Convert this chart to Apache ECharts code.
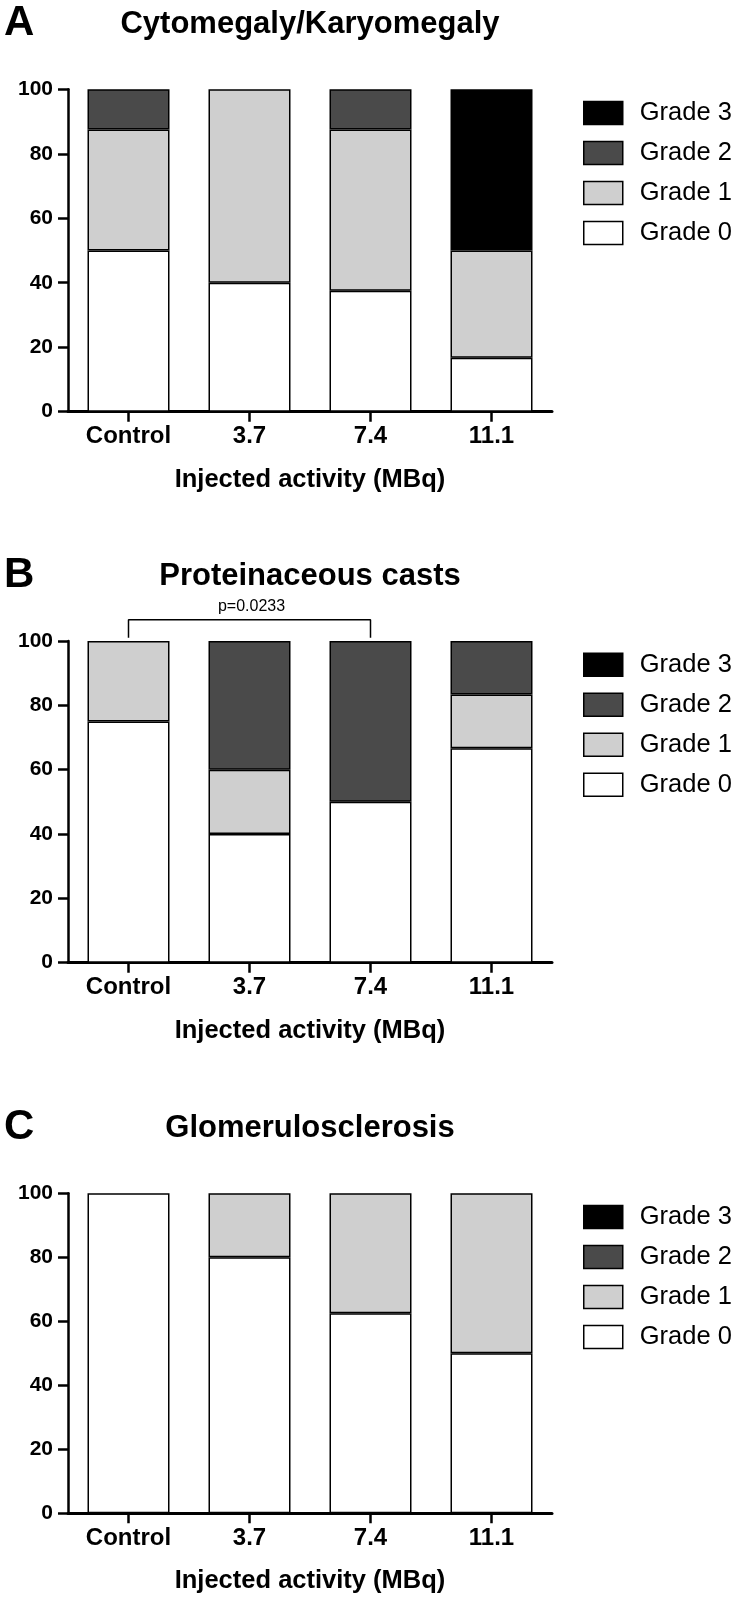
<!DOCTYPE html>
<html>
<head>
<meta charset="utf-8">
<script src="https://cdn.jsdelivr.net/npm/echarts@6/dist/echarts.min.js"></script>
<style>
html,body{margin:0;padding:0;background:#fff;}
#c{width:737px;height:1599px;}
</style>
</head>
<body>
<div id="c"></div>
<script>
// ---- data ----
const categories = ['Control', '3.7', '7.4', '11.1'];
const gradeNames = ['Grade 0', 'Grade 1', 'Grade 2', 'Grade 3'];
const legendOrder = ['Grade 3', 'Grade 2', 'Grade 1', 'Grade 0'];
const yTicks = [0, 20, 40, 60, 80, 100];

const panelLetters = ['A', 'B', 'C'];
const panelTitles = ['Cytomegaly/Karyomegaly', 'Proteinaceous casts', 'Glomerulosclerosis'];
const xAxisTitle = 'Injected activity (MBq)';

// Panel A: Cytomegaly/Karyomegaly (% of animals)
const a_grade0 = [50, 40, 37.5, 16.7];
const a_grade1 = [37.5, 60, 50, 33.3];
const a_grade2 = [12.5, 0, 12.5, 0];
const a_grade3 = [0, 0, 0, 50];

// Panel B: Proteinaceous casts
const b_grade0 = [75, 40, 50, 66.7];
const b_grade1 = [25, 20, 0, 16.7];
const b_grade2 = [0, 40, 50, 16.6];
const b_grade3 = [0, 0, 0, 0];

// Panel C: Glomerulosclerosis
const c_grade0 = [100, 80, 62.5, 50];
const c_grade1 = [0, 20, 37.5, 50];
const c_grade2 = [0, 0, 0, 0];
const c_grade3 = [0, 0, 0, 0];

// significance bracket (panel B)
const bracketFrom = 'Control';
const bracketTo = '7.4';
const bracketLow = 101;
const bracketHigh = 106.6;
const pLabel = 'p=0.0233';

// ---- styling / layout ----
const FONT = '"Liberation Sans", Arial, Helvetica, sans-serif';
const gradeColors = ['#ffffff', '#cfcfcf', '#4a4a4a', '#000000'];
const panelTop = [89.3, 641, 1193.3];
const panelHeight = [322.4, 321.7, 320];
const gridLeft = 68;
const gridWidth = 484;

const panelData = [
  [a_grade0, a_grade1, a_grade2, a_grade3],
  [b_grade0, b_grade1, b_grade2, b_grade3],
  [c_grade0, c_grade1, c_grade2, c_grade3]
];

const grids = [], xAxes = [], yAxes = [], series = [], legends = [], titles = [];

for (let p = 0; p < 3; p++) {
  const top = panelTop[p];
  const h = panelHeight[p];
  grids.push({ left: gridLeft, top: top, width: gridWidth, height: h, containLabel: false });
  xAxes.push({
    type: 'category', gridIndex: p, data: categories,
    axisLine: { show: true, lineStyle: { color: '#000', width: 3 } },
    axisTick: { show: true, alignWithLabel: true, length: 10, lineStyle: { color: '#000', width: 2.5 } },
    axisLabel: { color: '#000', fontFamily: FONT, fontWeight: 'bold', fontSize: 24, margin: 13 },
    name: xAxisTitle, nameLocation: 'middle', nameGap: 55,
    nameTextStyle: { color: '#000', fontFamily: FONT, fontWeight: 'bold', fontSize: 25.5 }
  });
  yAxes.push({
    type: 'value', gridIndex: p, min: yTicks[0], max: yTicks[yTicks.length - 1], interval: yTicks[1] - yTicks[0],
    axisLine: { show: true, lineStyle: { color: '#000', width: 2.5 } },
    axisTick: { show: true, length: 10, lineStyle: { color: '#000', width: 2.5 } },
    axisLabel: { color: '#000', fontFamily: FONT, fontWeight: 'bold', fontSize: 21, margin: 15 },
    splitLine: { show: false }
  });
  for (let g = 0; g < 4; g++) {
    series.push({
      type: 'bar', name: gradeNames[g], xAxisIndex: p, yAxisIndex: p,
      stack: 'panel' + p, barWidth: 82,
      // zero-height segments are left empty so they draw no extra outline
      data: panelData[p][g].map(v => (v === 0 ? '-' : v)),
      itemStyle: { color: gradeColors[g], borderColor: '#000', borderWidth: 1.5 },
      emphasis: { disabled: true }, silent: true
    });
  }
  legends.push({
    orient: 'vertical', left: 583, top: top + 10.7, padding: 0,
    itemWidth: 39, itemHeight: 23, itemGap: 14,
    icon: 'rect', selectedMode: false,
    data: legendOrder,
    itemStyle: { borderColor: '#000', borderWidth: 1.5 },
    textStyle: { color: '#000', fontFamily: FONT, fontSize: 25.5, lineHeight: 24, padding: [0, 0, 0, 12] }
  });
  titles.push({
    text: panelTitles[p], left: 310, textAlign: 'center', top: top - 67 - 13.5, padding: 0,
    textStyle: { color: '#000', fontFamily: FONT, fontWeight: 'bold', fontSize: 31 }
  });
  titles.push({
    text: panelLetters[p], left: 4, top: top - 67 - 19.5, padding: 0,
    textStyle: { color: '#000', fontFamily: FONT, fontWeight: 'bold', fontSize: 42 }
  });
}

// bracket drawn through the panel-B axes
series.push({
  type: 'line', name: 'bracket', xAxisIndex: 1, yAxisIndex: 1,
  data: [[bracketFrom, bracketLow], [bracketFrom, bracketHigh], [bracketTo, bracketHigh], [bracketTo, bracketLow]],
  symbol: 'none', clip: false, silent: true,
  lineStyle: { color: '#000', width: 1.5 }
});

const chart = echarts.init(document.getElementById('c'), null, { renderer: 'canvas' });
chart.setOption({
  animation: false,
  backgroundColor: '#fff',
  title: titles,
  grid: grids,
  xAxis: xAxes,
  yAxis: yAxes,
  legend: legends,
  series: series
});

const pFrom = chart.convertToPixel({ gridIndex: 1 }, [categories.indexOf(bracketFrom), bracketHigh]);
const pTo = chart.convertToPixel({ gridIndex: 1 }, [categories.indexOf(bracketTo), bracketHigh]);
chart.setOption({
  graphic: [{
    type: 'text', x: (pFrom[0] + pTo[0]) / 2 + 2, y: pFrom[1] - 13,
    style: { text: pLabel, fill: '#000', font: '16px ' + FONT, textAlign: 'center', textVerticalAlign: 'middle' },
    silent: true
  }]
});
</script>
</body>
</html>
